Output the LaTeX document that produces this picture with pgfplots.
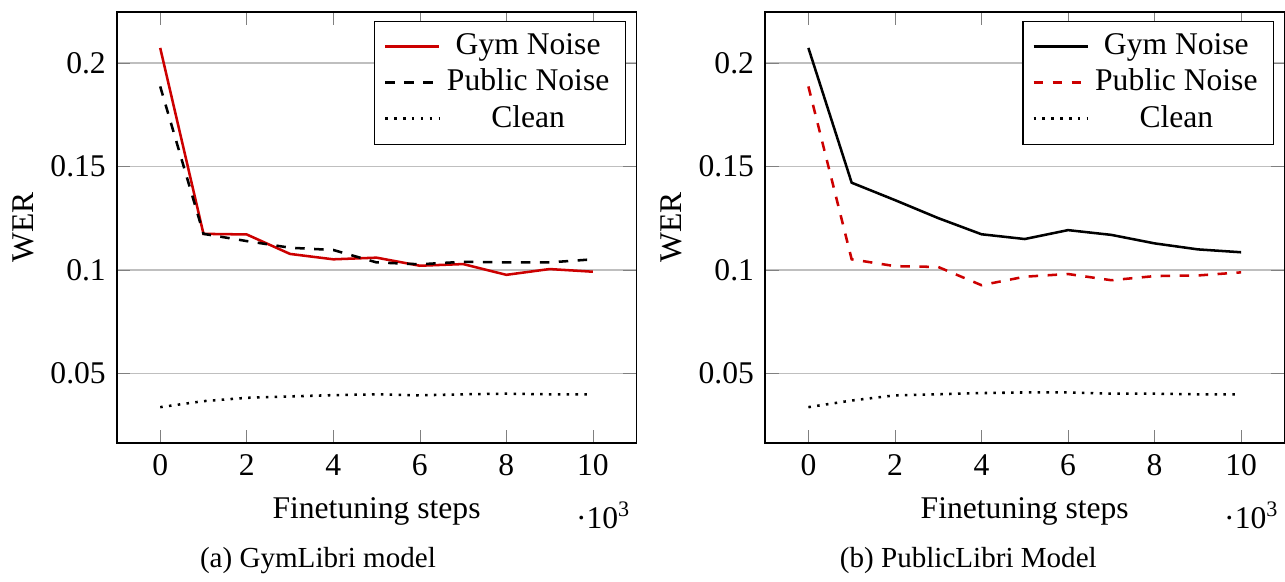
\documentclass[border=0pt]{standalone}
\usepackage{fontspec}
\setmainfont{Liberation Serif}
\usepackage{pgfplots}
\pgfplotsset{compat=1.18}
\definecolor{darkred}{RGB}{204,0,0}

\pgfplotsset{
  werstyle/.style={
    scale only axis,
    width=164.3pt, height=136.4pt,
    xmin=-1, xmax=11,
    xtick={0,2,4,6,8,10},
    xticklabels={0,2,4,6,8,10},
    ytick={0.05,0.1,0.15,0.2},
    yticklabels={0.05,0.1,0.15,0.2},
    ymajorgrids,
    xlabel={Finetuning steps},
    ylabel={WER},
    ylabel shift=-1.5pt,
    tick label style={font=\fontsize{10}{12}\selectfont},
    label style={font=\fontsize{10}{12}\selectfont},
    legend style={font=\fontsize{10}{12}\selectfont, row sep=-1pt},
    legend cell align=center,
    every axis plot/.append style={thick},
  },
}
% steps are given in thousands, as the axis label says
\newcommand{\stepscale}{\node[anchor=north east, inner sep=0pt, font=\fontsize{10}{12}\selectfont]
  at ([xshift=-1.5pt,yshift=-18.5pt]current axis.south east) {\textperiodcentered10\textsuperscript{3}};}

\begin{document}
\begin{tikzpicture}
  \path[use as bounding box] (0,0) rectangle (406.6pt,183.9pt);

  % (a) GymLibri model
  \begin{axis}[werstyle, at={(37pt,43.7pt)}, anchor=south west]
    \addplot[darkred] coordinates {
      (0,0.2073) (1,0.1175) (2,0.1172) (3,0.1078) (4,0.1052)
      (5,0.1060) (6,0.1021) (7,0.1029) (8,0.0977) (9,0.1005) (10,0.0992)
    };
    \addplot[black, dashed] coordinates {
      (0,0.1887) (1,0.1175) (2,0.1140) (3,0.1108) (4,0.1097)
      (5,0.1037) (6,0.1028) (7,0.1040) (8,0.1037) (9,0.1037) (10,0.1052)
    };
    \addplot[black, dotted] coordinates {
      (0,0.0338) (1,0.0367) (2,0.0383) (3,0.0390) (4,0.0396)
      (5,0.0400) (6,0.0395) (7,0.0400) (8,0.0403) (9,0.0400) (10,0.0400)
    };
    \legend{Gym Noise, Public Noise, Clean}
  \end{axis}
  \stepscale

  % (b) PublicLibri Model
  \begin{axis}[werstyle, at={(242.1pt,43.7pt)}, anchor=south west]
    \addplot[black] coordinates {
      (0,0.2073) (1,0.1422) (2,0.1338) (3,0.1251) (4,0.1173)
      (5,0.1150) (6,0.1193) (7,0.1170) (8,0.1129) (9,0.1100) (10,0.1086)
    };
    \addplot[darkred, dashed] coordinates {
      (0,0.1887) (1,0.1052) (2,0.1019) (3,0.1015) (4,0.0927)
      (5,0.0968) (6,0.0981) (7,0.0951) (8,0.0971) (9,0.0974) (10,0.0989)
    };
    \addplot[black, dotted] coordinates {
      (0,0.0338) (1,0.0370) (2,0.0395) (3,0.0400) (4,0.0406)
      (5,0.0409) (6,0.0409) (7,0.0403) (8,0.0403) (9,0.0400) (10,0.0400)
    };
    \legend{Gym Noise, Public Noise, Clean}
  \end{axis}
  \stepscale

  \node[font=\fontsize{9.2}{11}\selectfont] at (100.6pt,6.6pt) {(a) GymLibri model};
  \node[font=\fontsize{9.2}{11}\selectfont] at (306.4pt,6.6pt) {(b) PublicLibri Model};
\end{tikzpicture}
\end{document}
